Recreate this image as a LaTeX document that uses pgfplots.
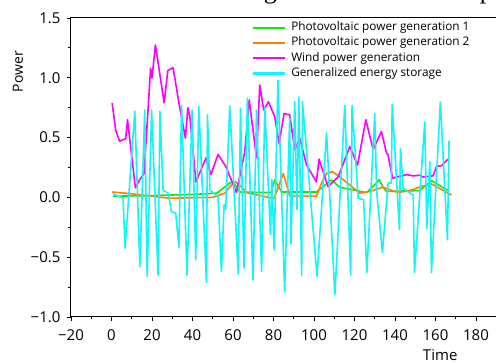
\documentclass[border=0pt]{standalone}
\usepackage{fontspec}
\setmainfont{Open Sans}
\newfontfamily\serifTop{Liberation Serif}
\usepackage{pgfplots}
\pgfplotsset{compat=1.18}
\definecolor{pvgreen}{RGB}{20,230,20}
\definecolor{pvorange}{RGB}{255,128,0}
\definecolor{windmag}{RGB}{255,0,255}
\definecolor{esscyan}{RGB}{20,245,245}
\begin{document}
\begin{tikzpicture}[x=1pt,y=1pt]
\useasboundingbox (0,0) rectangle (496,363);
\clip (0,0) rectangle (496,363);
\node[anchor=base east, inner sep=0pt, font=\serifTop\fontsize{26}{26}\selectfont] at (493,364) {20.07\% and 43.7\% higher than that of the p};
\begin{axis}[
  at={(71pt,46pt)}, anchor=south west,
  scale only axis, width=429.3pt, height=299pt,
  xmin=-20, xmax=192, ymin=-1, ymax=1.5,
  xtick={-20,0,20,40,60,80,100,120,140,160,180},
  xticklabels={−20,0,20,40,60,80,100,120,140,160,180},
  ytick={-1,-0.5,0,0.5,1,1.5},
  yticklabels={−1.0,−0.5,0.0,0.5,1.0,1.5},
  minor x tick num=1, minor y tick num=1,
  xtick pos=bottom, ytick pos=left,
  tick align=outside, major tick length=4pt, minor tick length=2.5pt,
  axis line style={line width=1pt, black},
  tick style={line width=0.9pt, black},
  ticklabel style={font=\fontsize{15}{15}\selectfont},
  xticklabel style={yshift=-5pt},
  yticklabel style={xshift=-3pt},
  xlabel={Time}, ylabel={Power},
  xlabel style={at={(axis description cs:0.86,0)}, anchor=center, yshift=-38pt, font=\fontsize{15}{15}\selectfont},
  ylabel style={at={(axis description cs:-0.1235,0.82)}, anchor=center, font=\fontsize{14}{14}\selectfont},
  legend style={at={(0.415,0.995)}, anchor=north west, draw=none, fill=none,
    font=\fontsize{11.8}{11.8}\selectfont, row sep=3.3pt,
    nodes={inner sep=1pt, text height=8pt, text depth=2pt}},
  legend cell align=left,
  legend image code/.code={\draw[#1, line width=2.2pt] (0pt,0pt) -- (32pt,0pt); \path (36pt,0pt);},
  every axis plot/.append style={line width=1.6pt, line join=round},
]
\addplot[pvgreen] coordinates {
(0.8,0.01) (20,0.015) (40,0.025) (52,0.035) (58.4,0.12) (60,0.13) (63.4,0.045)
(78.7,0.04) (80.6,0.146) (84,0.045) (101.2,0.045) (108.6,0.146) (112.7,0.085)
(125.9,0.04) (130.5,0.113) (132.2,0.15) (134.1,0.085) (135.8,0.05) (152.2,0.057)
(158,0.14) (166.2,0.057)};
\addlegendentry{Photovoltaic power generation 1}
\addplot[pvorange] coordinates {
(0.3,0.045) (10,0.03) (28.4,-0.007) (50,0.0) (55.9,0.035) (59,0.1) (61.2,0.13)
(64,0.09) (66.7,0.04) (80.3,-0.01) (84.8,0.2) (88.1,0.01) (101.2,0.01) (104,0.13)
(106.2,0.2) (109.1,0.215) (112,0.18) (118,0.1) (122.6,0.035) (127.6,0.05)
(134.1,0.085) (141.5,0.04) (147.3,0.057) (153.9,0.096) (158,0.113) (167.9,0.02)};
\addlegendentry{Photovoltaic power generation 2}
\addplot[windmag] coordinates {
(0.3,0.79) (2.1,0.56) (4,0.47) (7,0.49) (7.9,0.65) (11.8,0.08) (14,0.15) (16.1,0.2)
(19.3,1.08) (20,1.0) (21.7,1.275) (26,0.79) (27.8,1.06) (30.4,1.085) (33.4,0.78)
(36.5,0.495) (37.7,0.75) (38.7,0.675) (41.7,0.13) (46.7,0.33) (49.1,0.19) (52.6,0.36)
(56.4,0.26) (61.7,0.04) (65.8,0.38) (68,0.815) (71.6,0.33) (73.2,0.94) (75.2,0.73)
(77.5,0.80) (80.6,0.675) (82.8,0.45) (85.2,0.70) (88,0.69) (90.5,0.40) (93,0.495)
(96.3,0.27) (101.2,0.13) (102.5,0.32) (106.9,0.09) (111.9,0.17) (117.7,0.425)
(121.5,0.27) (125.6,0.65) (129.2,0.40) (133.3,0.55) (135.8,0.37) (136.5,0.36)
(138.8,0.16) (140.7,0.17) (145.7,0.19) (149,0.18) (152.2,0.185) (153.9,0.17)
(158.8,0.18) (160.5,0.26) (163,0.265) (166.2,0.32)};
\addlegendentry{Wind power generation}
\addplot[esscyan] coordinates {
(0.8,0.03) (5.7,-0.007) (6.7,-0.425) (11.5,0.72) (14,-0.58) (16.4,0.73) (17.6,-0.66)
(19.8,0.73) (23,-0.65) (23.9,0.72) (25.5,0.06) (28,0.035) (29.6,-0.12) (31.7,-0.13)
(33.3,-0.42) (34.6,0.77) (37.3,-0.65) (39.8,0.73) (41.6,-0.52) (43.1,0.76) (46.9,-0.71)
(47.4,0.69) (48.6,0.06) (52.6,0.007) (54.3,-0.62) (55.6,-0.06) (56.4,-0.1) (58.4,0.765)
(62.6,-0.64) (63.7,0.745) (65.4,-0.59) (67.1,0.83) (69.9,-0.69) (71.6,0.73) (74.1,-0.62)
(75.7,0.755) (78.5,-0.31) (79.2,0.15) (80.3,-0.44) (82.2,0.98) (85.5,-0.79) (88.0,0.66)
(88.6,-0.39) (90.5,0.80) (91.6,-0.1) (92.5,0.84) (93.9,-0.65) (94.3,0.80) (101.5,-0.66)
(106.2,0.54) (110.3,-0.815) (115.2,0.77) (118.1,-0.65) (118.8,0.77) (121.8,-0.007)
(124.5,-0.02) (126.1,-0.63) (130,0.70) (130.9,0.06) (133.8,-0.46) (136.6,0.12)
(138.2,0.12) (138.6,0.78) (142.2,-0.27) (142.7,0.41) (144,0.077) (149,0.02)
(149.6,-0.63) (154.7,0.63) (155.7,-0.26) (157.2,0.30) (158,-0.63) (162.4,0.80)
(165.9,-0.355) (166.7,0.475)};
\addlegendentry{Generalized energy storage}
\end{axis}
\end{tikzpicture}
\end{document}
